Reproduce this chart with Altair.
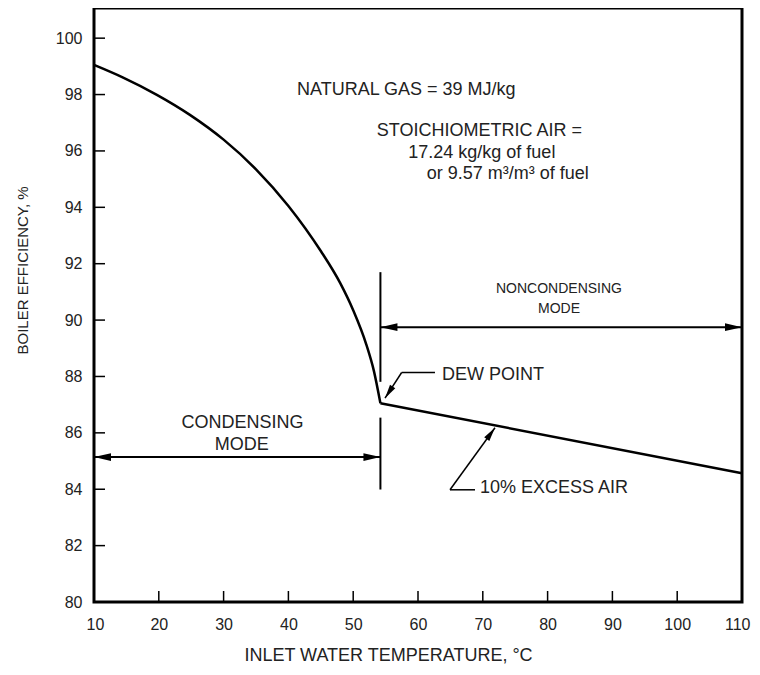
import math
import altair as alt
import pandas as pd

# ---- data ----
cond_x = [10, 14.5, 19.7, 24.8, 30, 35, 40, 45, 48, 50, 52, 53.2, 54.2]
cond_y = [99.05, 98.60, 97.99, 97.28, 96.40, 95.35, 94.05, 92.45, 91.31, 90.35, 89.15, 88.19, 87.05]
noncond_x = [54.2, 110]
noncond_y = [87.05, 84.57]

x_ticks = [10, 20, 30, 40, 50, 60, 70, 80, 90, 100, 110]
y_ticks = [80, 82, 84, 86, 88, 90, 92, 94, 96, 98, 100]

# straight segments: x1, y1, x2, y2, stroke width
seg_x1 = [10, 54.2, 54.2, 54.2, 62.62, 57.48, 68.8, 64.94]
seg_y1 = [85.14, 89.75, 91.7, 86.54, 88.14, 88.14, 83.98, 83.98]
seg_x2 = [54.2, 110, 54.2, 54.2, 57.48, 54.91, 64.94, 71.88]
seg_y2 = [85.14, 89.75, 87.81, 83.99, 88.14, 87.23, 83.98, 86.18]
seg_w = [2, 2, 2, 2, 1.5, 1.5, 1.5, 1.5]

# arrow heads: tip position, pointing away from (fx, fy)
head_x = [10, 54.2, 54.2, 110, 54.91, 71.88]
head_y = [85.14, 85.14, 89.75, 89.75, 87.23, 86.18]
head_fx = [54.2, 10, 110, 54.2, 57.48, 64.94]
head_fy = [85.14, 85.14, 89.75, 89.75, 88.14, 83.98]
head_size = [289, 289, 289, 289, 196, 196]

# texts
lt_text = ["NATURAL GAS = 39 MJ/kg", "STOICHIOMETRIC AIR =", "17.24 kg/kg of fuel",
           "or 9.57 m\u00b3/m\u00b3 of fuel", "DEW POINT", "10% EXCESS AIR"]
lt_x = [41.33, 53.63, 58.5, 61.34, 63.7, 69.57]
lt_y = [98.16, 96.71, 95.93, 95.18, 88.06, 84.05]
lt_size = [18, 18, 18, 18, 18, 18]

ct_text = ["NONCONDENSING", "MODE", "CONDENSING", "MODE"]
ct_x = [81.76, 81.76, 32.92, 32.79]
ct_y = [91.1, 90.39, 86.35, 85.58]
ct_size = [14, 14, 18, 18]

W, H = 648, 594
X_DOM = [10, 110]
Y_DOM = [80, 101.07]
FONT = "Liberation Sans"
TXT = "#222222"

PX_X = W / (X_DOM[1] - X_DOM[0])
PX_Y = H / (Y_DOM[1] - Y_DOM[0])


def screen_angle(fx, fy, tx, ty):
    return math.degrees(math.atan2(-(ty - fy) * PX_Y, (tx - fx) * PX_X)) % 360


curve_df = pd.DataFrame({
    "x": cond_x + noncond_x,
    "y": cond_y + noncond_y,
    "seg": ["c"] * len(cond_x) + ["n"] * len(noncond_x),
})
seg_df = pd.DataFrame({"x": seg_x1, "y": seg_y1, "x2": seg_x2, "y2": seg_y2, "w": seg_w})
head_df = pd.DataFrame({
    "x": head_x, "y": head_y, "sz": head_size,
    "ang": [screen_angle(a, b, c, d) for a, b, c, d in zip(head_fx, head_fy, head_x, head_y)],
})
lt_df = pd.DataFrame({"x": lt_x, "y": lt_y, "t": lt_text, "s": lt_size})
ct_df = pd.DataFrame({"x": ct_x, "y": ct_y, "t": ct_text, "s": ct_size})
xt_df = pd.DataFrame({"x": x_ticks})
yt_df = pd.DataFrame({"y": y_ticks})

xs = alt.Scale(domain=X_DOM, nice=False, zero=False)
ys = alt.Scale(domain=Y_DOM, nice=False, zero=False)

x_axis = alt.Axis(
    values=x_ticks, title="INLET WATER TEMPERATURE, \u00b0C", labelPadding=14,
    labelFlush=True, labelFlushOffset=8,
    titleX=294, titleY=58, titleBaseline="alphabetic", titleAlign="center", titleAnchor="start",
    titleFontSize=18)
y_axis = alt.Axis(
    values=y_ticks, title="BOILER EFFICIENCY, %", labelPadding=12, labelFlush=False,
    titleX=-72, titleY=262, titleBaseline="middle", titleAlign="center", titleAngle=-90,
    titleAnchor="start", titleFontSize=15)

X = alt.X("x:Q", scale=xs, axis=x_axis)
Y = alt.Y("y:Q", scale=ys, axis=y_axis)

curve = alt.Chart(curve_df).mark_line(color="black", strokeWidth=2.5, interpolate="monotone").encode(
    x=X, y=Y, detail="seg:N",
)

segs = alt.Chart(seg_df).mark_rule(color="black").encode(
    x=X, y=Y, x2="x2:Q", y2="y2:Q", strokeWidth=alt.StrokeWidth("w:Q", scale=None),
)

heads = alt.Chart(head_df).mark_point(
    shape="M0,0 L-2,-0.45 L-2,0.45 Z", filled=True, color="black", opacity=1, strokeWidth=0
).encode(
    x=X, y=Y, angle=alt.Angle("ang:Q", scale=None), size=alt.Size("sz:Q", scale=None),
)

ytk = alt.Chart(yt_df).mark_rule(color="black", strokeWidth=1.5).encode(
    y=Y, x=alt.value(0), x2=alt.value(11),
)
xtk = alt.Chart(xt_df).mark_rule(color="black", strokeWidth=1.5).encode(
    x=X, y=alt.value(H), y2=alt.value(H - 11),
)

ltext = alt.Chart(lt_df).mark_text(align="left", baseline="middle", font=FONT, color=TXT).encode(
    x=X, y=Y, text="t:N", size=alt.Size("s:Q", scale=None),
)
ctext = alt.Chart(ct_df).mark_text(align="center", baseline="middle", font=FONT, color=TXT).encode(
    x=X, y=Y, text="t:N", size=alt.Size("s:Q", scale=None),
)

chart = alt.layer(curve, segs, heads, ytk, xtk, ltext, ctext).properties(
    width=W, height=H,
    autosize=alt.AutoSizeParams(type="none"),
    padding={"left": 86, "top": 0, "right": 10, "bottom": 62},
).configure_view(
    stroke="black", strokeWidth=3,
).configure_axis(
    grid=False, domain=False, ticks=False,
    labelFont=FONT, labelFontSize=16, labelColor=TXT,
    titleFont=FONT, titleColor=TXT, titleFontWeight="normal",
)

chart.save("out.html", embed_options={"renderer": "svg", "actions": False})
